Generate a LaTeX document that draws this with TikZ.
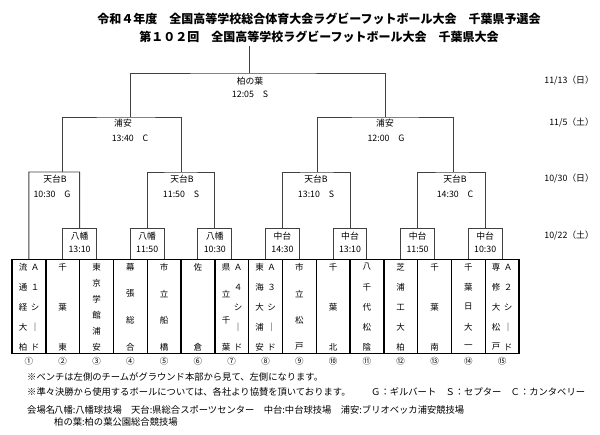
\documentclass[tikz,border=0pt]{standalone}
\usepackage{fontspec}
\setmainfont{Noto Sans CJK JP}
\usetikzlibrary{calc}
\newcommand\vcolumn[3]{\foreach \c [count=\k] in {#3} {\node[tt] at (#1,{267+(\k-1)*80/(#2-1)}) {\c};}}
\begin{document}
\begin{tikzpicture}[x=1pt,y=-1pt,
  br/.style={draw=black!75,line width=0.9pt},
  tbox/.style={draw=black,line width=1.4pt,minimum width=33.8pt,minimum height=94pt,inner sep=0pt},
  tt/.style={font=\fontsize{8.5}{9}\selectfont,inner sep=0pt},
  lb/.style={font=\fontsize{8.8}{9}\selectfont,inner sep=0pt},
  nt/.style={font=\fontsize{9.3}{10}\selectfont,inner sep=0pt,anchor=west}]
\useasboundingbox (0,0) rectangle (600,435);
\node[font=\fontsize{12}{13}\selectfont\bfseries] (t1) at (319,19) {令和４年度　全国高等学校総合体育大会ラグビーフットボール大会　千葉県予選会};
\node[font=\fontsize{12}{13}\selectfont\bfseries] (t2) at (319,37) {第１０２回　全国高等学校ラグビーフットボール大会　千葉県大会};
% team boxes
\foreach \i in {1,...,15}{
  \node[tbox] (b\i) at ({12+33.8*(\i-0.5)},306.5) {};
  \node[lb,font=\fontsize{8.5}{9}\selectfont] (n\i) at ({12+33.8*(\i-0.5)},361) {\ifcase\i\or ①\or ②\or ③\or ④\or ⑤\or ⑥\or ⑦\or ⑧\or ⑨\or ⑩\or ⑪\or ⑫\or ⑬\or ⑭\or ⑮\fi};
}
% names
\vcolumn{23}{5}{流,通,経,大,柏}\vcolumn{35}{5}{Ａ,１,シ,｜,ド}
\vcolumn{62.7}{3}{千,葉,東}
\vcolumn{96.5}{6}{東,京,学,館,浦,安}
\vcolumn{130.3}{4}{幕,張,総,合}
\vcolumn{164.1}{4}{市,立,船,橋}
\vcolumn{197.9}{2}{佐,倉}
\vcolumn{226}{4}{県,立,千,葉}\vcolumn{238}{5}{Ａ,４,シ,｜,ド}
\vcolumn{259.5}{5}{東,海,大,浦,安}\vcolumn{271.5}{5}{Ａ,３,シ,｜,ド}
\vcolumn{299.3}{4}{市,立,松,戸}
\vcolumn{333.1}{3}{千,葉,北}
\vcolumn{366.9}{5}{八,千,代,松,陰}
\vcolumn{400.7}{5}{芝,浦,工,大,柏}
\vcolumn{434.5}{3}{千,葉,南}
\vcolumn{468.3}{5}{千,葉,日,大,一}
\vcolumn{496}{5}{専,修,大,松,戸}\vcolumn{508}{5}{Ａ,２,シ,｜,ド}
% first round
\foreach \a/\b/\m/\p/\t in {2/3/r1/八幡/13:10,4/5/r2/八幡/11:50,6/7/r3/八幡/10:30,8/9/r4/中台/14:30,10/11/r5/中台/13:10,12/13/r6/中台/11:50,14/15/r7/中台/10:30}{
  \draw[br] (b\a.north) -- ++(0,-30) -| (b\b.north);
  \coordinate (\m) at ($(b\a.north)!0.5!(b\b.north)+(0,-30)$);
  \node[lb] at ($(\m)+(0,7)$) {\p};
  \node[lb] at ($(\m)+(0,21)$) {\t};
}
% quarterfinals y=172
\draw[br] (b1.north) |- (79.6,172) -- (r1);
\draw[br] (r2) |- (181,172) -| (r3);
\draw[br] (r4) |- (317,172) -| (r5);
\draw[br] (r6) |- (453,172) -| (r7);
\coordinate (q1) at (62,172);\coordinate (q2) at (181,172);
\coordinate (q3) at (317,172);\coordinate (q4) at (453,172);
\node[lb] at (55,179) {天台B};\node[lb] at (52,194) {10:30　G};
\node[lb] at (182,179) {天台B};\node[lb] at (181,194) {11:50　S};
\node[lb] at (316,179) {天台B};\node[lb] at (316,194) {13:10　S};
\node[lb] at (455,179) {天台B};\node[lb] at (455,194) {14:30　C};
% semifinals y=117
\draw[br] (q1) |- (130,117) -| (q2);
\draw[br] (q3) |- (385,117) -| (q4);
\coordinate (s1) at (130,117);\coordinate (s2) at (385,117);
\node[lb] at (123,123) {浦安};\node[lb] at (130,138) {13:40　C};
\node[lb] at (385,123) {浦安};\node[lb] at (386,138) {12:00　G};
% final y=73
\draw[br] (s1) |- (249,73) -| (s2);
\coordinate (f) at (249,73);
\draw[br] (f) -- (249,46);
\node[lb] at (250,81) {柏の葉};\node[lb] at (250,94) {12:05　S};
% dates
\node[lb,anchor=east] (d1) at (594,81) {11/13（日）};
\node[lb,anchor=east] (d2) at (594,123) {11/5（土）};
\node[lb,anchor=east] (d3) at (594,179) {10/30（日）};
\node[lb,anchor=east] (d4) at (594,236) {10/22（土）};
% notes
\node[nt] at (27,377) {※ベンチは左側のチームがグラウンド本部から見て、左側になります。};
\node[nt] at (27,392) {※準々決勝から使用するボールについては、各社より協賛を頂いております。};
\node[nt] at (371,392) {Ｇ：ギルバート　Ｓ：セプター　Ｃ：カンタベリー};
\node[nt] at (27,410) {会場名};
\node[nt] at (54,410) {八幡:八幡球技場　天台:県総合スポーツセンター　中台:中台球技場　浦安:ブリオベッカ浦安競技場};
\node[nt] at (54,422) {柏の葉:柏の葉公園総合競技場};
\end{tikzpicture}
\end{document}
